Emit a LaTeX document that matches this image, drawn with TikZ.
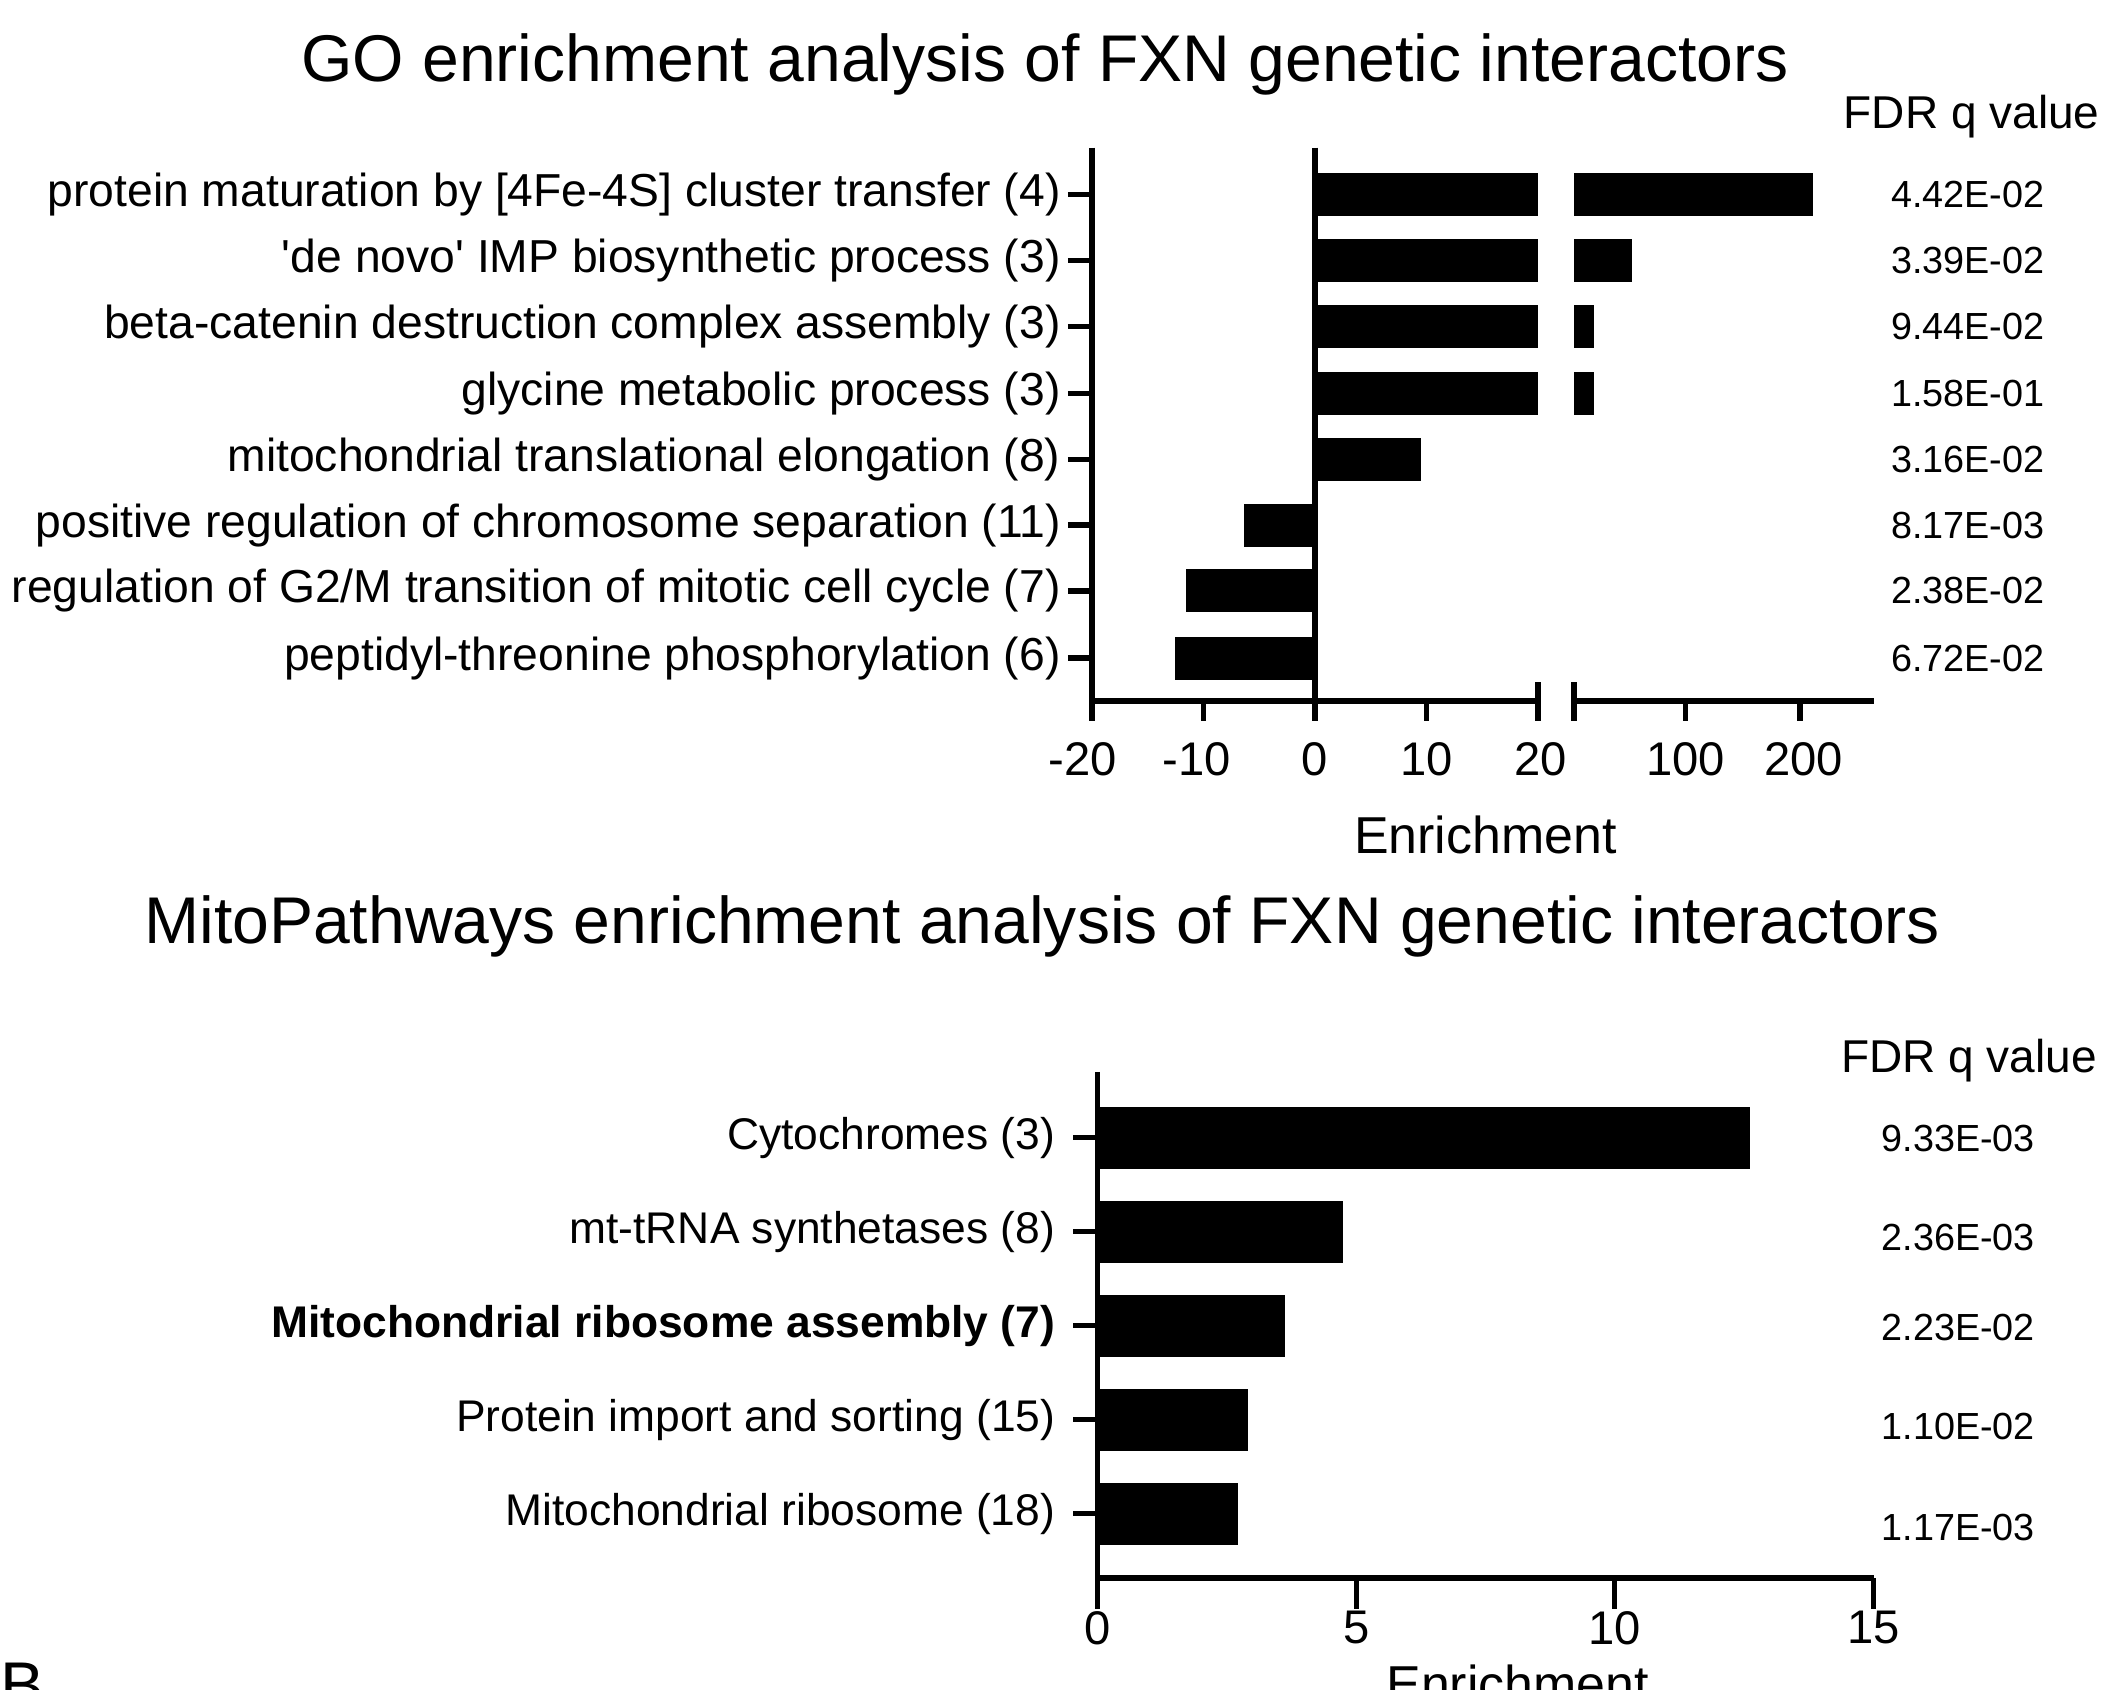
\documentclass[tikz,border=0pt]{standalone}
\usepackage{fontspec}
\setmainfont{Liberation Sans}
\begin{document}
\begin{tikzpicture}[x=0.02cm,y=-0.02cm,
  ax/.style={line width=2.3pt},
  bar/.style={fill=black},
  lab/.style={anchor=east,font=\fontsize{19.6}{19.6}\selectfont,inner sep=0},
  labb/.style={anchor=east,font=\fontsize{18.8}{18.8}\selectfont,inner sep=0},
  fdr/.style={font=\fontsize{16}{16}\selectfont,inner sep=0},
  hdr/.style={font=\fontsize{19.5}{19.5}\selectfont,inner sep=0},
  tl/.style={font=\fontsize{20}{20}\selectfont,inner sep=0},
  en/.style={font=\fontsize{22}{22}\selectfont,inner sep=0},
  ttl/.style={font=\fontsize{28}{28}\selectfont,inner sep=0}]
\clip (0,0) rectangle (1568,1258);
\fill[white] (0,0) rectangle (1568,1258);
% ---------- top ----------
\node[ttl] (t1) at (778,48) {GO enrichment analysis of FXN genetic interactors};
\node[hdr] (f1) at (1468,87) {FDR q value};
\draw[ax] (813,110) -- (813,522);
\draw[ax] (979,110) -- (979,522);
\draw[ax] (813,522) -- (1145,522);
\draw[ax] (1172,522) -- (1395,522);
\foreach \x in {813,896,979,1062} \draw[ax] (\x,522) -- (\x,537);
\draw[ax] (1145,508) -- (1145,537);
\draw[ax] (1172,508) -- (1172,537);
\foreach \x in {1255,1340} \draw[ax] (\x,522) -- (\x,537);
\foreach \x/\t in {806/-20,891/-10,979/0,1062/10,1147/20,1255/100,1343/200}
  \node[tl] at (\x,565) {\t};
\node[en] (e1) at (1106,622) {Enrichment};
\foreach \y/\l/\q [count=\i] in {
 145/{protein maturation by [4Fe-4S] cluster transfer (4)}/4.42E-02,
 194/{\textquotesingle de novo\textquotesingle{} IMP biosynthetic process (3)}/3.39E-02,
 243/{beta-catenin destruction complex assembly (3)}/9.44E-02,
 293/{glycine metabolic process (3)}/1.58E-01,
 342/{mitochondrial translational elongation (8)}/3.16E-02,
 391/{positive regulation of chromosome separation (11)}/8.17E-03,
 440/{regulation of G2/M transition of mitotic cell cycle (7)}/2.38E-02,
 490/{peptidyl-threonine phosphorylation (6)}/6.72E-02}{
  \draw[ax] (795,\y) -- (813,\y);
  \node[lab] (l\i) at (790,\y) {\l};
  \node[fdr] (q\i) at (1465,\y) {\q};
}
\foreach \y in {145,194,243,293} \fill[bar] (979,\y-16) rectangle (1145,\y+16);
\fill[bar] (1172,129) rectangle (1350,161);
\fill[bar] (1172,178) rectangle (1215,210);
\fill[bar] (1172,227) rectangle (1187,259);
\fill[bar] (1172,277) rectangle (1187,309);
\fill[bar] (979,326) rectangle (1058,358);
\fill[bar] (926,375) rectangle (979,407);
\fill[bar] (883,424) rectangle (979,456);
\fill[bar] (875,474) rectangle (979,506);
% ---------- bottom ----------
\node[ttl] (t2) at (776,690) {MitoPathways enrichment analysis of FXN genetic interactors};
\node[hdr] (f2) at (1466,790) {FDR q value};
\draw[ax] (817,798) -- (817,1175);
\draw[ax] (817,1175) -- (1395,1175);
\foreach \x/\t in {817/0,1010/5,1202/10,1395/15}{
  \draw[ax] (\x,1175) -- (\x,1198);
  \node[tl] at (\x,1212) {\t};}
\node[en] (e2) at (1130,1254) {Enrichment};
\foreach \y/\l/\q/\e [count=\i] in {
 847/{Cytochromes (3)}/9.33E-03/1303,
 917/{mt-tRNA synthetases (8)}/2.36E-03/1000,
 987/{\bfseries Mitochondrial ribosome assembly (7)}/2.23E-02/957,
 1057/{Protein import and sorting (15)}/1.10E-02/929,
 1127/{Mitochondrial ribosome (18)}/1.17E-03/922}{
  \draw[ax] (799,\y) -- (817,\y);
  \node[labb] (m\i) at (786,\y) {\l};
  \fill[bar] (817,\y-23) rectangle (\e,\y+23);
}
\node[fdr] at (1458,848) {9.33E-03};
\node[fdr] at (1458,921) {2.36E-03};
\node[fdr] at (1458,988) {2.23E-02};
\node[fdr] at (1458,1062) {1.10E-02};
\node[fdr] at (1458,1137) {1.17E-03};
\node[ttl,anchor=north west] (b) at (0,1238) {B};
\end{tikzpicture}
\end{document}
